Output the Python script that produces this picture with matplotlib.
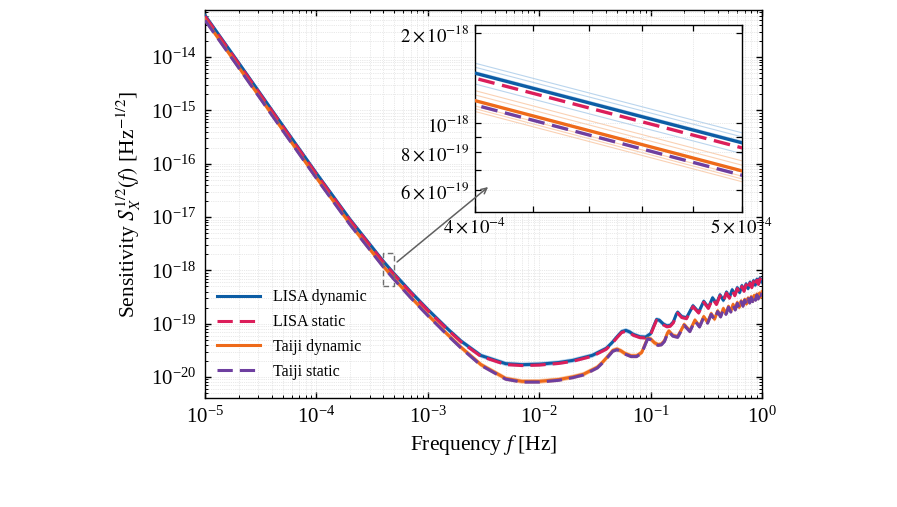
import matplotlib
matplotlib.use("Agg")
import matplotlib.pyplot as plt
from matplotlib.ticker import LogLocator, FixedLocator, FixedFormatter, NullFormatter
from matplotlib.patches import Rectangle

# ---------------- data ----------------
lisa_freq = [1e-5, 2e-5, 5e-5, 1e-4, 2e-4, 4e-4, 5e-4, 7e-4, 1e-3, 1.5e-3, 2e-3, 3e-3,
             5e-3, 7e-3, 1e-2, 1.5e-2, 2e-2,
             0.03, 0.04, 0.045, 0.05, 0.055, 0.06, 0.065, 0.07, 0.08, 0.09, 0.10, 0.108, 0.113,
             0.12, 0.13, 0.14, 0.15, 0.16, 0.17, 0.175, 0.19, 0.21,
             0.24, 0.27, 0.30, 0.33, 0.36, 0.39, 0.42, 0.45, 0.48, 0.51, 0.54, 0.57,
             0.60, 0.63, 0.66, 0.69, 0.72, 0.75, 0.78, 0.81, 0.84, 0.87, 0.90, 0.93,
             0.96, 0.99, 1.0]
lisa_dynamic = [6.1e-14, 7.9e-15, 5.17e-16, 6.64e-17, 9.10e-18, 1.47e-18, 8.6e-19, 3.99e-19,
                1.845e-19, 8.07e-20, 4.68e-20, 2.53e-20, 1.78e-20, 1.705e-20, 1.74e-20,
                1.87e-20, 2.05e-20,
                2.55e-20, 3.45e-20, 4.4e-20, 5.7e-20, 7.1e-20, 7.5e-20, 7.0e-20, 6.3e-20,
                5.7e-20, 5.6e-20, 6.5e-20, 9.6e-20, 1.2e-19, 1.16e-19, 9.9e-20, 9.1e-20,
                9.3e-20, 1.08e-19, 1.5e-19, 1.64e-19, 1.36e-19, 1.29e-19,
                2.17e-19, 1.65e-19, 2.63e-19, 2.01e-19, 3.06e-19, 2.38e-19, 3.48e-19,
                2.75e-19, 3.92e-19, 3.12e-19, 4.34e-19, 3.48e-19, 4.74e-19, 3.85e-19,
                5.17e-19, 4.21e-19, 5.59e-19, 4.57e-19, 6.01e-19, 4.94e-19, 6.42e-19,
                5.3e-19, 6.82e-19, 5.67e-19, 7.21e-19, 6.03e-19, 6.3e-19]

taiji_freq = [1e-5, 2e-5, 5e-5, 1e-4, 2e-4, 4e-4, 5e-4, 7e-4, 1e-3, 1.5e-3, 2e-3, 3e-3,
              5e-3, 7e-3, 1e-2, 1.5e-2, 2e-2,
              0.025, 0.0333, 0.0375, 0.0417, 0.0458, 0.05, 0.0542, 0.0583, 0.0667, 0.075,
              0.0833, 0.09, 0.094, 0.1, 0.1083, 0.1167, 0.125, 0.1333, 0.1417, 0.146, 0.1583, 0.175,
              0.2, 0.225, 0.25, 0.275, 0.3, 0.325, 0.35, 0.375, 0.4, 0.425, 0.45, 0.475,
              0.5, 0.525, 0.55, 0.575, 0.6, 0.625, 0.65, 0.675, 0.7, 0.725, 0.75, 0.775,
              0.8, 0.825, 0.85, 0.875, 0.9, 0.925, 0.95, 0.975, 1.0]
taiji_dynamic = [5.1e-14, 6.6e-15, 4.30e-16, 5.52e-17, 7.49e-18, 1.19e-18, 6.93e-19, 3.19e-19,
                 1.467e-19, 6.33e-20, 3.57e-20, 1.71e-20, 9.41e-21, 8.29e-21, 8.30e-21,
                 8.98e-21, 1.005e-20,
                 1.13e-20, 1.53e-20, 1.95e-20, 2.5e-20, 3.15e-20, 3.35e-20, 3.1e-20, 2.8e-20,
                 2.5e-20, 2.5e-20, 2.9e-20, 4.3e-20, 5.35e-20, 5.2e-20, 4.4e-20, 4.05e-20,
                 4.15e-20, 4.8e-20, 6.7e-20, 7.3e-20, 6.05e-20, 5.73e-20,
                 9.64e-20, 7.35e-20, 1.168e-19, 8.97e-20, 1.36e-19, 1.059e-19, 1.549e-19,
                 1.222e-19, 1.742e-19, 1.384e-19, 1.928e-19, 1.547e-19, 2.108e-19, 1.71e-19,
                 2.3e-19, 1.872e-19, 2.488e-19, 2.034e-19, 2.672e-19, 2.197e-19, 2.854e-19,
                 2.36e-19, 3.03e-19, 2.522e-19, 3.21e-19, 2.685e-19, 3.38e-19, 2.847e-19,
                 3.58e-19, 3.01e-19, 3.74e-19, 3.17e-19, 3.94e-19]

# static curves sit slightly below the dynamic ones (ratio)
lisa_static_ratio = 0.962
taiji_static_ratio = 0.967
# thin individual realisations around the dynamic curves (ratios)
lisa_spread = [1.08, 1.047, 1.013, 0.92]
taiji_spread = [1.08, 1.045, 0.96, 0.94, 0.92]

series_labels = ["LISA dynamic", "LISA static", "Taiji dynamic", "Taiji static"]
main_xticks = [1e-5, 1e-4, 1e-3, 1e-2, 1e-1, 1e0]
main_yticks = [1e-20, 1e-19, 1e-18, 1e-17, 1e-16, 1e-15, 1e-14]
inset_xticks = [4e-4, 4.2e-4, 4.4e-4, 4.6e-4, 4.8e-4, 5e-4]
inset_xticklabels = [r"$4\times10^{-4}$", "", "", "", "", r"$5\times10^{-4}$"]
inset_yticks = [6e-19, 7e-19, 8e-19, 9e-19, 1e-18, 2e-18]
inset_yticklabels = [r"$6\times10^{-19}$", "", r"$8\times10^{-19}$", "", r"$10^{-18}$",
                     r"$2\times10^{-18}$"]

lisa_static = [v * lisa_static_ratio for v in lisa_dynamic]
taiji_static = [v * taiji_static_ratio for v in taiji_dynamic]

# ---------------- style ----------------
plt.rcParams["font.family"] = ["Liberation Serif", "DejaVu Serif"]
plt.rcParams["mathtext.fontset"] = "stix"
plt.rcParams["axes.linewidth"] = 1.0

C_LD = "#0C5DA5"
C_LS = "#DC1E5A"
C_TD = "#EE6A1A"
C_TS = "#6E3FA0"
C_LT = "#9DC3E6"
C_TT = "#F8BE94"
LW = 2.2
DASH = (5.0, 2.3)

fig = plt.figure(figsize=(8.97, 5.07), dpi=100)
ax = fig.add_axes([205 / 897, 1 - 398 / 507, 557 / 897, 388 / 507])


def draw(a, lw, thin_lw):
    for s in lisa_spread:
        a.plot(lisa_freq, [v * s for v in lisa_dynamic], color=C_LT, lw=thin_lw, alpha=0.7, zorder=1)
    for s in taiji_spread:
        a.plot(taiji_freq, [v * s for v in taiji_dynamic], color=C_TT, lw=thin_lw, alpha=0.7, zorder=1)
    h1, = a.plot(lisa_freq, lisa_dynamic, color=C_LD, lw=lw, zorder=3, label=series_labels[0])
    h2, = a.plot(lisa_freq, lisa_static, color=C_LS, lw=lw, ls=(0, DASH), zorder=4, label=series_labels[1])
    h3, = a.plot(taiji_freq, taiji_dynamic, color=C_TD, lw=lw, zorder=5, label=series_labels[2])
    h4, = a.plot(taiji_freq, taiji_static, color=C_TS, lw=lw, ls=(0, DASH), zorder=6, label=series_labels[3])
    return [h1, h2, h3, h4]


handles = draw(ax, LW, 0.8)
ax.set_xscale("log")
ax.set_yscale("log")
ax.set_xlim(1e-5, 1.0)
ax.set_ylim(4.04e-21, 7.67e-14)
ax.xaxis.set_major_locator(FixedLocator(main_xticks))
ax.yaxis.set_major_locator(FixedLocator(main_yticks))
ax.xaxis.set_minor_locator(LogLocator(base=10, subs=[2, 3, 4, 5, 6, 7, 8, 9], numticks=100))
ax.yaxis.set_minor_locator(LogLocator(base=10, subs=[2, 3, 4, 5, 6, 7, 8, 9], numticks=100))
ax.xaxis.set_minor_formatter(NullFormatter())
ax.yaxis.set_minor_formatter(NullFormatter())
ax.tick_params(which="both", direction="in", top=True, right=True, labelsize=15)
ax.tick_params(which="major", length=4.5, width=1.0, pad=6)
ax.tick_params(which="minor", length=2.3, width=0.7)
ax.grid(True, which="both", ls=":", lw=0.5, color="#d4d4d4")
ax.set_axisbelow(True)
ax.set_xlabel(r"Frequency $f$ [Hz]", fontsize=15.5, labelpad=4)
ax.set_ylabel(r"Sensitivity $S_X^{1/2}(f)$ [Hz$^{-1/2}$]", fontsize=15.5, labelpad=6)

ax.legend(handles=handles, loc="lower left", frameon=False, fontsize=11.5,
          handlelength=2.7, labelspacing=0.55, borderaxespad=0.35, bbox_to_anchor=(0.0, 0.016))

# zoom box
ax.add_patch(Rectangle((4e-4, 5.05e-19), 1e-4, 2.13e-18 - 5.05e-19, fill=False,
                       ls=(0, (4, 2.5)), lw=1.0, ec="#707070", zorder=7))

# ---------------- inset ----------------
axin = fig.add_axes([475 / 897, 1 - 212 / 507, 267 / 897, 187 / 507])
draw(axin, 2.4, 0.8)
axin.set_xscale("log")
axin.set_yscale("log")
axin.set_xlim(4e-4, 5e-4)
axin.set_ylim(5.05e-19, 2.13e-18)
axin.xaxis.set_major_locator(FixedLocator(inset_xticks))
axin.xaxis.set_major_formatter(FixedFormatter(inset_xticklabels))
axin.xaxis.set_minor_locator(FixedLocator([]))
axin.yaxis.set_major_locator(FixedLocator(inset_yticks))
axin.yaxis.set_major_formatter(FixedFormatter(inset_yticklabels))
axin.yaxis.set_minor_locator(FixedLocator([]))
axin.tick_params(which="both", direction="in", top=True, right=True, labelsize=13.5,
                 length=4, width=0.9, pad=4)
axin.grid(True, which="major", ls=":", lw=0.5, color="#d4d4d4")
axin.set_facecolor("white")

# arrow from the zoom box into the inset (drawn on top of the inset)
axin.annotate("", xy=(4.044e-4, 6.12e-19), xycoords=axin.transData,
              xytext=(5.3e-4, 1.44e-18), textcoords=ax.transData,
              arrowprops=dict(arrowstyle="->", color="#606060", lw=1.1, shrinkA=0, shrinkB=0),
              annotation_clip=False, zorder=10)

fig.savefig("out.png", dpi=100)
